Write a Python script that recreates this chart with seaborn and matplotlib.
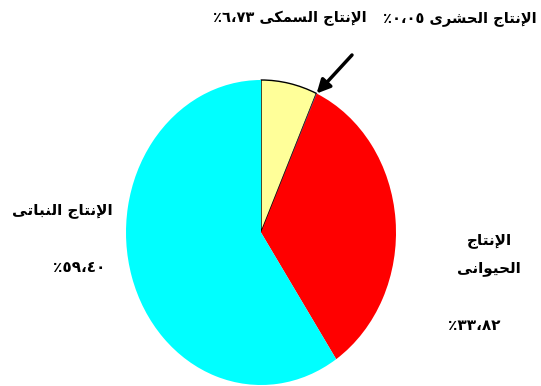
import matplotlib
matplotlib.use('Agg')
import matplotlib.pyplot as plt
import numpy as np
import seaborn as sns

# Data (shares of production, percent)
names = ['الإنتاج السمكى', 'الإنتاج الحشرى', 'الإنتاج الحيوانى', 'الإنتاج النباتى']
values = [6.73, 0.05, 33.82, 59.40]
colors = ['#FFFF99', '#9999FF', '#FF0000', '#00FFFF']

# Minimal Arabic shaping (matplotlib has no complex text layout)
# char: (isolated, final, initial, medial) ; None -> right-joining only
FORMS = {
    'ا': (0xFE8D, 0xFE8E, None, None),
    'إ': (0xFE87, 0xFE88, None, None),
    'ب': (0xFE8F, 0xFE90, 0xFE91, 0xFE92),
    'ت': (0xFE95, 0xFE96, 0xFE97, 0xFE98),
    'ج': (0xFE9D, 0xFE9E, 0xFE9F, 0xFEA0),
    'ح': (0xFEA1, 0xFEA2, 0xFEA3, 0xFEA4),
    'ر': (0xFEAD, 0xFEAE, None, None),
    'س': (0xFEB1, 0xFEB2, 0xFEB3, 0xFEB4),
    'ش': (0xFEB5, 0xFEB6, 0xFEB7, 0xFEB8),
    'ك': (0xFED9, 0xFEDA, 0xFEDB, 0xFEDC),
    'ل': (0xFEDD, 0xFEDE, 0xFEDF, 0xFEE0),
    'م': (0xFEE1, 0xFEE2, 0xFEE3, 0xFEE4),
    'ن': (0xFEE5, 0xFEE6, 0xFEE7, 0xFEE8),
    'و': (0xFEED, 0xFEEE, None, None),
    'ى': (0xFEEF, 0xFEF0, None, None),
    'ي': (0xFEF1, 0xFEF2, 0xFEF3, 0xFEF4),
}
LAM_ALEF = {'ا': (0xFEFB, 0xFEFC), 'إ': (0xFEF9, 0xFEFA)}


def shape_word(word):
    # merge lam + alef into ligature tokens
    tokens = []
    i = 0
    while i < len(word):
        if word[i] == 'ل' and i + 1 < len(word) and word[i + 1] in LAM_ALEF:
            tokens.append(('LA', word[i + 1]))
            i += 2
        else:
            tokens.append(('C', word[i]))
            i += 1

    def dual(t):
        return t[0] == 'C' and FORMS[t[1]][2] is not None

    out = []
    for k, t in enumerate(tokens):
        joins_prev = k > 0 and dual(tokens[k - 1])
        if t[0] == 'LA':
            iso, fin = LAM_ALEF[t[1]]
            out.append(chr(fin if joins_prev else iso))
            continue
        f = FORMS[t[1]]
        joins_next = dual(t) and k + 1 < len(tokens)
        if joins_prev and joins_next:
            out.append(chr(f[3]))
        elif joins_prev:
            out.append(chr(f[1]))
        elif joins_next:
            out.append(chr(f[2]))
        else:
            out.append(chr(f[0]))
    return ''.join(reversed(out))


def rtl(text):
    return ' '.join(shape_word(w) for w in reversed(text.split()))


def pct(v):
    digits = f'{v:.2f}'.translate(str.maketrans('0123456789.', '٠١٢٣٤٥٦٧٨٩،'))
    return '٪' + digits


sns.set_theme(style='white')
plt.rcParams['font.family'] = ['DejaVu Sans']

W, H = 541, 386
fig = plt.figure(figsize=(W / 100, H / 100), dpi=100)
fig.patch.set_facecolor('white')

# pie is drawn as an ellipse (slightly taller than wide)
ax = fig.add_axes([126 / W, 1 / H, 270 / W, 305 / H])
wedges, _ = ax.pie(values, colors=colors, startangle=90, counterclock=False,
                   wedgeprops=dict(linewidth=0))
wedges[0].set_edgecolor('black')
wedges[0].set_linewidth(1.0)
ax.set_aspect('auto')
ax.set_xlim(-1, 1)
ax.set_ylim(-1, 1)
ax.axis('off')


def ftext(x, y, s, size=11):
    fig.text(x / W, 1 - y / H, s, ha='center', va='center', fontsize=size,
             fontweight='bold', color='black')


ftext(290, 18, '%s %s' % (pct(values[0]), rtl(names[0])), 10.5)
ftext(460, 18, '%s %s' % (pct(values[1]), rtl(names[1])), 10.5)
ftext(62, 210, rtl(names[3]))
ftext(79, 268, pct(values[3]))
ftext(489, 240, rtl('الإنتاج'))
ftext(489, 268, rtl('الحيوانى'))
ftext(474, 325, pct(values[2]))

# arrow pointing to the tiny insect slice
w = wedges[1]
th = np.deg2rad((w.theta1 + w.theta2) / 2)
ax.annotate('', xy=(np.cos(th), np.sin(th)), xycoords='data',
            xytext=(352 / W, 1 - 55 / H), textcoords='figure fraction',
            arrowprops=dict(arrowstyle='-|>', color='black', lw=2.5,
                            mutation_scale=20, shrinkA=0, shrinkB=0),
            annotation_clip=False)

fig.savefig('out.png', dpi=100, facecolor='white')
